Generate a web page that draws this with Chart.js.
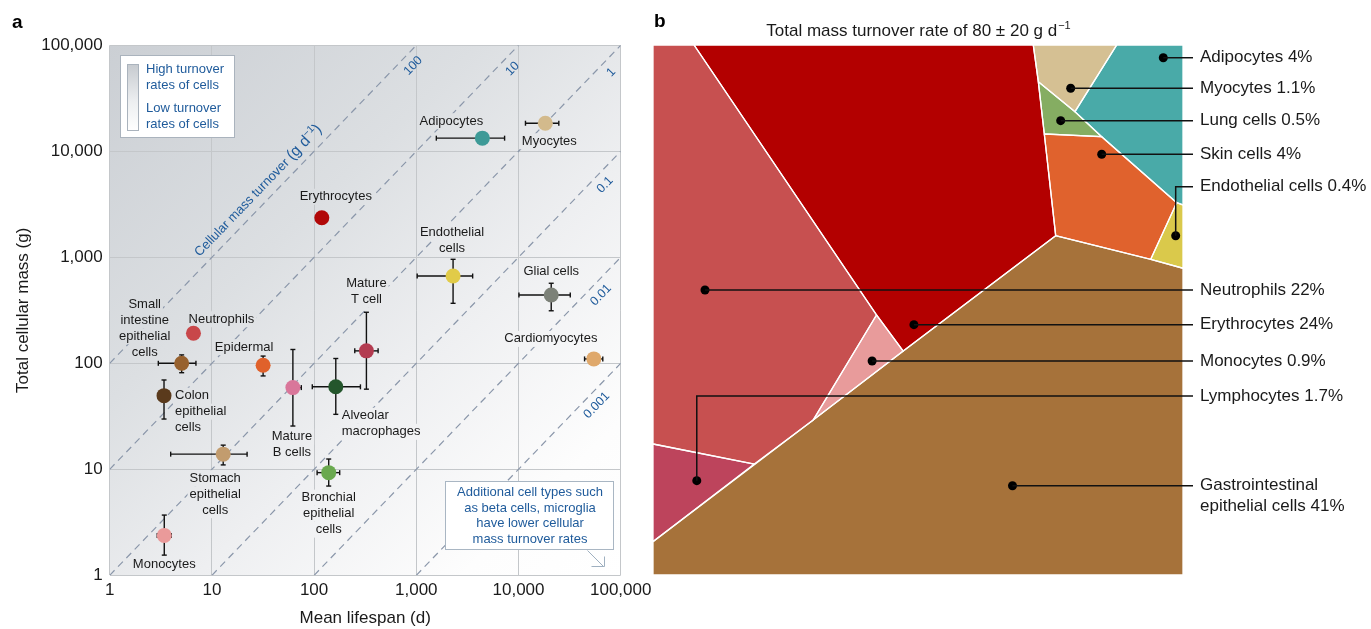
<!DOCTYPE html>
<html><head><meta charset="utf-8">
<script src="https://cdn.jsdelivr.net/npm/chart.js@4/dist/chart.umd.min.js"></script>
<style>
html,body{margin:0;padding:0;background:#fff;width:1371px;height:629px;overflow:hidden;}
#ca{position:absolute;left:0;top:0;}
#cb{position:absolute;left:640px;top:0;}
</style></head><body>
<canvas id="ca" width="660" height="629"></canvas>
<canvas id="cb" width="731" height="629"></canvas>
<script>
// ---------------- Panel a data ----------------
const cellTypes = ['Adipocytes','Myocytes','Erythrocytes','Endothelial cells','Glial cells','Cardiomyocytes','Mature T cell','Alveolar macrophages','Mature B cells','Epidermal','Neutrophils','Small intestine epithelial cells','Colon epithelial cells','Stomach epithelial cells','Bronchial epithelial cells','Monocytes'];
const meanLifespan = [4430, 18300, 119, 2290, 20900, 54600, 325, 163, 62, 31.7, 6.6, 5.06, 3.4, 12.9, 139, 3.42];
const lifespanLow  = [1570, 11700, null, 1020, 10100, 44300, 250, 96, 56, null, null, 2.99, null, 3.95, 107, 2.92];
const lifespanHigh = [7310, 24800, null, 3560, 32100, 66800, 423, 284, 75, null, null, 6.98, null, 22.1, 178, 4.0];
const cellMass     = [13300, 18400, 2360, 666, 441, 110, 131, 60, 59, 96, 192, 100, 49.5, 13.9, 9.3, 2.38];
const massLow      = [null, null, null, 368, 313, null, 57, 33, 25.6, 76, null, 81.5, 29.8, 11.0, 6.95, 1.55];
const massHigh     = [null, null, null, 957, 569, null, 303, 111, 135, 117, null, 120, 69.6, 16.9, 12.5, 3.7];
const cellLabelLines = [['Adipocytes'],['Myocytes'],['Erythrocytes'],['Endothelial','cells'],['Glial cells'],['Cardiomyocytes'],['Mature','T cell'],['Alveolar','macrophages'],['Mature','B cells'],['Epidermal'],['Neutrophils'],['Small','intestine','epithelial','cells'],['Colon','epithelial','cells'],['Stomach','epithelial','cells'],['Bronchial','epithelial','cells'],['Monocytes']];
const xTickValues = [1, 10, 100, 1000, 10000, 100000];
const yTickValues = [1, 10, 100, 1000, 10000, 100000];
const turnoverRates = [100, 10, 1, 0.1, 0.01, 0.001];
const turnoverLabels = ['100', '10', '1', '0.1', '0.01', '0.001'];

// ---------------- Panel b data ----------------
const turnoverGroups = ['Adipocytes','Myocytes','Lung cells','Skin cells','Endothelial cells','Neutrophils','Erythrocytes','Monocytes','Lymphocytes','Gastrointestinal epithelial cells'];
const turnoverShare = [4, 1.1, 0.5, 4, 0.4, 22, 24, 0.9, 1.7, 41];
// Voronoi treemap cells (unit square 0-100, y downward)
const cellAdipocytes  = [[87.49,0],[100,0],[100,30.19],[98.81,29.75],[84.66,17.30],[79.62,12.58]];
const cellMyocytes    = [[71.75,0],[87.49,0],[79.62,12.58],[72.70,6.92]];
const cellLung        = [[72.70,6.92],[79.62,12.58],[84.66,17.30],[73.83,16.79]];
const cellSkin        = [[73.83,16.79],[84.66,17.30],[98.81,29.75],[93.91,40.43],[75.98,35.98]];
const cellEndothelial = [[98.81,29.75],[100,30.19],[100,42.13],[93.91,40.43]];
const cellNeutrophils = [[0,0],[7.74,0],[42.17,50.94],[30.23,70.75],[19.11,79.06],[0,75.28]];
const cellErythrocytes= [[7.74,0],[71.75,0],[72.70,6.92],[73.83,16.79],[75.98,35.98],[47.21,57.74],[42.17,50.94]];
const cellMonocytes   = [[42.17,50.94],[47.21,57.74],[30.23,70.75]];
const cellLymphocytes = [[0,75.28],[19.11,79.06],[0,93.70]];
const cellGastro      = [[0,93.70],[30.23,70.75],[47.21,57.74],[75.98,35.98],[93.91,40.43],[100,42.13],[100,100],[0,100]];
const markerX = [96.28, 78.81, 76.92, 84.66, 98.62, 9.81, 49.23, 41.34, 8.26, 67.83];
const markerY = [2.40, 8.17, 14.28, 20.62, 35.98, 46.23, 52.77, 59.62, 82.2, 83.15];

// ---------------- styles / layout ----------------
const ink = '#1a1a1a', blue = '#1f5b9b';
const FONT = '"Liberation Sans", Arial, Helvetica, sans-serif';
Chart.defaults.font.family = FONT;
Chart.defaults.color = ink;
Chart.defaults.animation = false;

const pointColors = ['#3d9a97','#d3ba8c','#b10808','#e1cb48','#7c8178','#dfa86b','#b33b50','#24562c','#d9769a','#e0612b','#c8474a','#97612e','#5a3a1c','#c29c6e','#6aa94f','#ea9a9a'];
// [dx, dy of first line, align]
const labelLayout = [[-31,-17,'center'],[4,18,'center'],[14,-21,'center'],[-1,-44,'center'],[0,-24,'center'],[-43,-20,'center'],[0,-67,'center'],[6,29,'left'],[-1,49,'center'],[-19,-18,'center'],[28,-14,'center'],[-37,-59,'center'],[11,0,'left'],[-8,24,'center'],[0,25,'center'],[0,29,'center']];
const rateLabelAlong = [17, 21, 26, 35, 41, 47];
const groupColors = ['#49aaa8','#d5c093','#85ad62','#e0622d','#dac94b','#c75050','#b30000','#e89b9b','#bd445c','#a6723a'];
const groupCells = [cellAdipocytes, cellMyocytes, cellLung, cellSkin, cellEndothelial, cellNeutrophils, cellErythrocytes, cellMonocytes, cellLymphocytes, cellGastro];
const calloutElbowY = [null, null, null, null, 26.74, null, null, null, 66.23, null];

// ---------------- Panel a ----------------
const pointIdx = turnoverRates.length;
const rateDatasets = turnoverRates.map(r => {
  const x0 = Math.max(1, 1 / r), x1 = Math.min(1e5, 1e5 / r);
  return { order: 2, showLine: true, data: [{x: x0, y: r * x0}, {x: x1, y: r * x1}], borderColor: '#8b97aa', borderWidth: 1.2, borderDash: [7, 5], pointRadius: 0, fill: false };
});

function seg(ctx, a, b, c, d) { ctx.beginPath(); ctx.moveTo(a, b); ctx.lineTo(c, d); ctx.stroke(); }
function bgGradient(ctx, ca) {
  const g = ctx.createLinearGradient(ca.left, ca.top, ca.right, ca.bottom);
  g.addColorStop(0, '#cbcfd4');
  g.addColorStop(0.35, '#dcdfe2');
  g.addColorStop(0.6, '#eeeff1');
  g.addColorStop(0.85, '#fdfdfd');
  g.addColorStop(1, '#ffffff');
  return g;
}

const panelA = {
  id: 'panelA',
  beforeDraw(chart) {
    const {ctx, chartArea} = chart;
    ctx.save();
    ctx.fillStyle = bgGradient(ctx, chartArea);
    ctx.fillRect(chartArea.left, chartArea.top, chartArea.right - chartArea.left, chartArea.bottom - chartArea.top);
    ctx.restore();
  },
  beforeDatasetDraw(chart, args) {
    if (args.index !== pointIdx) return;
    const xs = chart.scales.x, ys = chart.scales.y, ctx = chart.ctx;
    ctx.save();
    // labels with background masks (hide lines behind them)
    ctx.font = '13px ' + FONT; ctx.textBaseline = 'middle';
    const bg = bgGradient(ctx, chart.chartArea);
    const items = [];
    cellLabelLines.forEach((lines, i) => {
      const px = xs.getPixelForValue(meanLifespan[i]), py = ys.getPixelForValue(cellMass[i]);
      const [dx, dy, al] = labelLayout[i];
      lines.forEach((t, k) => {
        const w = ctx.measureText(t).width;
        const x = px + dx, y = py + dy + k * 16;
        const x0 = al === 'left' ? x : x - w / 2;
        items.push([t, x, y, al, x0, w]);
      });
    });
    ctx.fillStyle = bg;
    items.forEach(([t, x, y, al, x0, w]) => ctx.fillRect(x0 - 2, y - 8, w + 4, 16));
    ctx.fillStyle = ink;
    items.forEach(([t, x, y, al]) => { ctx.textAlign = al; ctx.fillText(t, x, y); });
    // error bars
    ctx.strokeStyle = '#111'; ctx.lineWidth = 1.4;
    const cap = 2.5;
    meanLifespan.forEach((v, i) => {
      const px = xs.getPixelForValue(v), py = ys.getPixelForValue(cellMass[i]);
      if (lifespanLow[i] != null) {
        const a = xs.getPixelForValue(lifespanLow[i]), b = xs.getPixelForValue(lifespanHigh[i]);
        seg(ctx, a, py, b, py); seg(ctx, a, py - cap, a, py + cap); seg(ctx, b, py - cap, b, py + cap);
      }
      if (massLow[i] != null) {
        const a = ys.getPixelForValue(massLow[i]), b = ys.getPixelForValue(massHigh[i]);
        seg(ctx, px, a, px, b); seg(ctx, px - cap, a, px + cap, a); seg(ctx, px - cap, b, px + cap, b);
      }
    });
    ctx.restore();
  },
  afterDatasetsDraw(chart) {
    const xs = chart.scales.x, ys = chart.scales.y, ctx = chart.ctx;
    ctx.save();
    // rate labels
    const ang = Math.atan2(ys.getPixelForValue(10) - ys.getPixelForValue(1), xs.getPixelForValue(10) - xs.getPixelForValue(1));
    ctx.fillStyle = blue; ctx.font = '12.5px ' + FONT; ctx.textAlign = 'center'; ctx.textBaseline = 'middle';
    turnoverRates.forEach((r, i) => {
      const x1 = Math.min(1e5, 1e5 / r);
      const px = xs.getPixelForValue(x1), py = ys.getPixelForValue(r * x1);
      ctx.save(); ctx.translate(px, py); ctx.rotate(ang);
      ctx.fillText(turnoverLabels[i], -rateLabelAlong[i], 12);
      ctx.restore();
    });
    // axis label along the 100 line
    {
      const ax = 35, ay = 100 * ax;
      const px = xs.getPixelForValue(ax), py = ys.getPixelForValue(ay);
      const parts = [['Cellular mass turnover ', 13, 0], ['(g d', 15.5, 0], ['\u22121', 10, -6], [')', 15.5, 0]];
      let w = 0;
      parts.forEach(p => { ctx.font = p[1] + 'px ' + FONT; p.push(ctx.measureText(p[0]).width); w += p[3]; });
      ctx.save(); ctx.translate(px, py); ctx.rotate(ang);
      ctx.textAlign = 'left'; ctx.textBaseline = 'alphabetic';
      let cx = -w / 2;
      parts.forEach(p => { ctx.font = p[1] + 'px ' + FONT; ctx.fillText(p[0], cx, -9 + p[2]); cx += p[3]; });
      ctx.restore();
    }
    // legend box
    ctx.fillStyle = '#fff'; ctx.strokeStyle = '#aab3bd'; ctx.lineWidth = 1;
    ctx.fillRect(120.5, 55.5, 114, 82); ctx.strokeRect(120.5, 55.5, 114, 82);
    const lg = ctx.createLinearGradient(0, 64, 0, 131);
    lg.addColorStop(0, '#c6cacf'); lg.addColorStop(0.55, '#eceef0'); lg.addColorStop(1, '#ffffff');
    ctx.fillStyle = lg; ctx.fillRect(127.5, 64.5, 11, 66); ctx.strokeRect(127.5, 64.5, 11, 66);
    ctx.fillStyle = blue; ctx.font = '13px ' + FONT; ctx.textAlign = 'left'; ctx.textBaseline = 'middle';
    [['High turnover', 69], ['rates of cells', 85], ['Low turnover', 108], ['rates of cells', 124]].forEach(([t, y]) => ctx.fillText(t, 146, y));
    // note box
    ctx.fillStyle = '#fff'; ctx.strokeStyle = '#a9b6c3';
    ctx.fillRect(445.5, 481.5, 168, 68); ctx.strokeRect(445.5, 481.5, 168, 68);
    ctx.fillStyle = blue; ctx.textAlign = 'center';
    [['Additional cell types such', 492], ['as beta cells, microglia', 508], ['have lower cellular', 523.5], ['mass turnover rates', 539]].forEach(([t, y]) => ctx.fillText(t, 530, y));
    ctx.strokeStyle = '#9fb0c0'; ctx.lineWidth = 1;
    seg(ctx, 587.5, 550.5, 604, 567); seg(ctx, 591.5, 566.5, 604.5, 566.5); seg(ctx, 604.5, 556.5, 604.5, 566.5);
    // panel letter
    ctx.fillStyle = '#000'; ctx.font = 'bold 19px ' + FONT; ctx.textAlign = 'left';
    ctx.fillText('a', 12, 23);
    ctx.restore();
  }
};

new Chart(document.getElementById('ca'), {
  type: 'scatter',
  data: { datasets: [...rateDatasets, {
    order: 1,
    data: meanLifespan.map((v, i) => ({x: v, y: cellMass[i]})),
    pointRadius: 7.5, pointHoverRadius: 7.5, pointBackgroundColor: pointColors, pointBorderWidth: 0, pointBorderColor: 'rgba(0,0,0,0)', showLine: false
  }]},
  options: {
    responsive: false, events: [],
    layout: { padding: { left: 0, right: 39.3, top: 45.3, bottom: 0 } },
    plugins: { legend: { display: false }, tooltip: { enabled: false } },
    scales: {
      x: { type: 'logarithmic', min: 1, max: 100000,
        afterBuildTicks: s => { s.ticks = xTickValues.map(v => ({value: v})); },
        afterFit: s => { s.height = 53.7; },
        ticks: { callback: v => Number(v).toLocaleString('en-US'), font: {size: 17}, color: ink, padding: 5, autoSkip: false, maxRotation: 0 },
        grid: { color: '#c4c7ca', drawTicks: false },
        border: { display: false },
        title: { display: true, text: 'Mean lifespan (d)', font: {size: 17}, color: ink, padding: {top: 0, bottom: 0} } },
      y: { type: 'logarithmic', min: 1, max: 100000,
        afterBuildTicks: s => { s.ticks = yTickValues.map(v => ({value: v})); },
        afterFit: s => { s.width = 109.7; },
        ticks: { callback: v => Number(v).toLocaleString('en-US'), font: {size: 17}, color: ink, padding: 7, autoSkip: false },
        grid: { color: '#c4c7ca', drawTicks: false },
        border: { display: false },
        title: { display: true, text: 'Total cellular mass (g)', font: {size: 17}, color: ink, padding: {top: 13, bottom: 0} } }
    }
  },
  plugins: [panelA]
});

// ---------------- Panel b ----------------
const toPts = poly => [...poly, poly[0]].map(([x, y]) => ({x, y}));
const fillSets = groupCells.map((poly, i) => ({ order: 3, showLine: true, data: toPts(poly), fill: 'shape', backgroundColor: groupColors[i], borderColor: groupColors[i], borderWidth: 0, pointRadius: 0, tension: 0 }));
const edgeSets = groupCells.map(poly => ({ order: 2, showLine: true, data: toPts(poly), fill: false, borderColor: '#ffffff', borderWidth: 1.3, pointRadius: 0, tension: 0 }));

const panelB = {
  id: 'panelB',
  afterDatasetsDraw(chart) {
    const xs = chart.scales.x, ys = chart.scales.y, ctx = chart.ctx, ca = chart.chartArea;
    ctx.save();
    const lineEnd = ca.right + 10, textX = ca.right + 17;
    ctx.strokeStyle = '#111'; ctx.lineWidth = 1.5;
    ctx.fillStyle = ink; ctx.font = '17px ' + FONT; ctx.textAlign = 'left'; ctx.textBaseline = 'middle';
    turnoverGroups.forEach((g, i) => {
      const px = xs.getPixelForValue(markerX[i]), py = ys.getPixelForValue(markerY[i]);
      const e = calloutElbowY[i];
      const ly = e == null ? py : ys.getPixelForValue(e);
      ctx.beginPath(); ctx.moveTo(px, py); if (e != null) ctx.lineTo(px, ly); ctx.lineTo(lineEnd, ly); ctx.stroke();
      const txt = g + ' ' + turnoverShare[i] + '%';
      const lines = g.startsWith('Gastro') ? ['Gastrointestinal', txt.replace('Gastrointestinal ', '')] : [txt];
      lines.forEach((t, k) => ctx.fillText(t, textX, ly + k * 21));
    });
    // title
    const main = 'Total mass turnover rate of 80 \u00b1 20 g d', sup = '\u22121';
    ctx.font = '17px ' + FONT; const w1 = ctx.measureText(main).width;
    ctx.font = '11px ' + FONT; const w2 = ctx.measureText(sup).width;
    const cx = (ca.left + ca.right) / 2 - (w1 + w2) / 2;
    ctx.textBaseline = 'alphabetic';
    ctx.font = '17px ' + FONT; ctx.fillText(main, cx, 36);
    ctx.font = '11px ' + FONT; ctx.fillText(sup, cx + w1 + 1, 29);
    ctx.fillStyle = '#000'; ctx.font = 'bold 19px ' + FONT; ctx.textBaseline = 'middle';
    ctx.fillText('b', 14, 22);
    ctx.restore();
  }
};

new Chart(document.getElementById('cb'), {
  type: 'scatter',
  data: { datasets: [...fillSets, ...edgeSets, {
    order: 1,
    data: markerX.map((x, i) => ({x, y: markerY[i]})), pointRadius: 4.5, pointHoverRadius: 4.5, pointBackgroundColor: '#000', pointBorderWidth: 0, showLine: false
  }]},
  options: {
    responsive: false, events: [],
    layout: { padding: { left: 13, right: 188, top: 45, bottom: 54 } },
    plugins: { legend: { display: false }, tooltip: { enabled: false } },
    scales: {
      x: { type: 'linear', min: 0, max: 100, display: false },
      y: { type: 'linear', min: 0, max: 100, reverse: true, display: false }
    }
  },
  plugins: [panelB]
});
</script></body></html>
